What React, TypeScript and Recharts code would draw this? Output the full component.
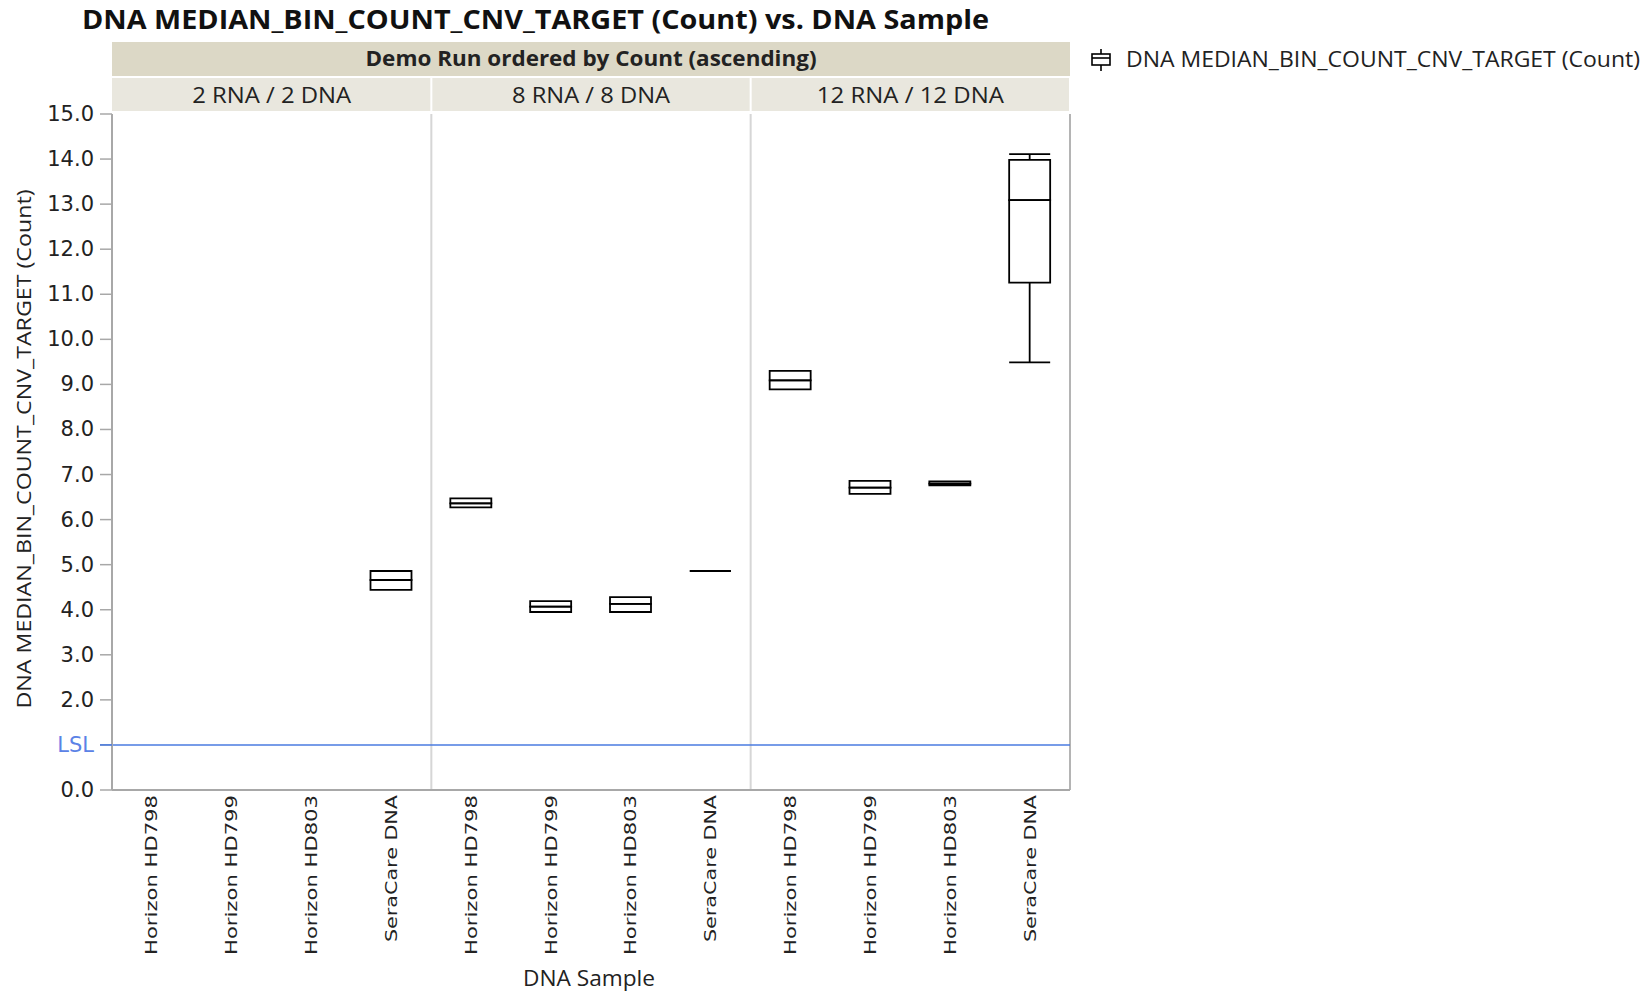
import React from 'react';
import { ComposedChart, Bar, XAxis, YAxis, ReferenceLine } from 'recharts';

const panels = ['2 RNA / 2 DNA', '8 RNA / 8 DNA', '12 RNA / 12 DNA'];
const samples = ['Horizon HD798', 'Horizon HD799', 'Horizon HD803', 'SeraCare DNA'];
const yTicks = [0, 1, 2, 3, 4, 5, 6, 7, 8, 9, 10, 11, 12, 13, 14, 15];
const lslValue = 1;

// one entry per cell: panel order, then sample order (null = no data)
const whiskerLow = [null, null, null, 4.44, 6.27, 3.95, 3.95, 4.86, 8.89, 6.57, 6.76, 9.49];
const quartile1 = [null, null, null, 4.44, 6.27, 3.95, 3.95, 4.86, 8.89, 6.57, 6.76, 11.26];
const medians = [null, null, null, 4.66, 6.36, 4.07, 4.13, 4.86, 9.09, 6.71, 6.8, 13.09];
const quartile3 = [null, null, null, 4.86, 6.47, 4.19, 4.28, 4.86, 9.3, 6.86, 6.85, 13.98];
const whiskerHigh = [null, null, null, 4.86, 6.47, 4.19, 4.28, 4.86, 9.3, 6.86, 6.85, 14.11];

const rows = whiskerLow.map((lo, i) => {
  const has = lo != null;
  return {
    key: `c${i}`,
    label: samples[i % samples.length],
    empty: !has,
    base: has ? lo : 0,
    lowWhisker: has ? (quartile1[i] as number) - (lo as number) : 0,
    boxLow: has ? (medians[i] as number) - (quartile1[i] as number) : 0,
    boxHigh: has ? (quartile3[i] as number) - (medians[i] as number) : 0,
    highWhisker: has ? (whiskerHigh[i] as number) - (quartile3[i] as number) : 0,
  };
});

const W = 1645;
const H = 996;
const plotLeft = 112;
const plotRight = 1070;
const plotTop = 114;
const plotBottom = 790;
const panelW = (plotRight - plotLeft) / panels.length;

const isEmpty = (p: any) => p?.payload?.empty ?? p?.empty;

const Nothing = () => <g />;

const BoxPart = (p: any) => {
  if (isEmpty(p)) return <g />;
  const top = Math.min(p.y, p.y + p.height);
  const h = Math.abs(p.height);
  return (
    <path
      d={`M${p.x},${top}H${p.x + p.width}V${top + h}H${p.x}Z`}
      fill="none"
      stroke="#000"
      strokeWidth={1.8}
    />
  );
};

const makeWhisker = (capAtTop: boolean) => (p: any) => {
  if (isEmpty(p)) return <g />;
  const top = Math.min(p.y, p.y + p.height);
  const h = Math.abs(p.height);
  if (h < 0.5) return <g />;
  const cx = p.x + p.width / 2;
  const capY = capAtTop ? top : top + h;
  return (
    <g stroke="#000" strokeWidth={1.8}>
      <line x1={cx} x2={cx} y1={top} y2={top + h} />
      <line x1={p.x} x2={p.x + p.width} y1={capY} y2={capY} />
    </g>
  );
};

const YTick = (p: any) => {
  const v = p.payload.value;
  const lsl = v === lslValue;
  return (
    <g>
      {lsl && <line x1={p.x + 6} x2={p.x + 18} y1={p.y} y2={p.y} stroke="#4a7be0" strokeWidth={1.6} />}
      <text
        x={p.x}
        y={p.y}
        textAnchor="end"
        dominantBaseline="central"
        fontFamily="DejaVu Sans"
        fontSize={21}
        fill={lsl ? '#5b82e6' : '#222'}
      >
        {lsl ? 'LSL' : v.toFixed(1)}
      </text>
    </g>
  );
};

const XTick = (p: any) => {
  const label = rows[p.index]?.label ?? '';
  const len = label.startsWith('Sera') ? 147 : 160;
  return (
    <text
      x={p.x}
      y={p.y}
      transform={`rotate(-90 ${p.x} ${p.y})`}
      textAnchor="end"
      dominantBaseline="central"
      fontFamily="DejaVu Sans"
      fontSize={16}
      fill="#222"
      textLength={len}
      lengthAdjust="spacingAndGlyphs"
    >
      {label}
    </text>
  );
};

const panelTextLen = [159, 158, 187];

const Overlay = () => (
  <svg width={W} height={H} style={{ position: 'absolute', left: 0, top: 0, pointerEvents: 'none' }}>
    <text x={82} y={29} fontFamily="Open Sans" fontWeight={700} fontSize={27} fill="#111"
      textLength={907} lengthAdjust="spacingAndGlyphs">
      DNA MEDIAN_BIN_COUNT_CNV_TARGET (Count) vs. DNA Sample
    </text>
    <rect x={plotLeft} y={42} width={plotRight - plotLeft} height={34} fill="#dcd8c6" />
    <text x={(plotLeft + plotRight) / 2} y={66} textAnchor="middle" fontFamily="Open Sans" fontWeight={700}
      fontSize={21} fill="#222" textLength={451} lengthAdjust="spacingAndGlyphs">
      Demo Run ordered by Count (ascending)
    </text>
    {panels.map((name, i) => (
      <g key={name}>
        <rect x={plotLeft + i * panelW + (i ? 1 : 0)} y={78} width={panelW - (i ? 2 : 1)} height={33} fill="#e9e7de" />
        <text x={plotLeft + (i + 0.5) * panelW} y={102.5} textAnchor="middle" fontFamily="Open Sans" fontSize={21}
          fill="#222" textLength={panelTextLen[i]} lengthAdjust="spacingAndGlyphs">
          {name}
        </text>
      </g>
    ))}
    <g stroke="#000" strokeWidth={1.6} fill="#fff">
      <line x1={1101} x2={1101} y1={49} y2={71} />
      <rect x={1092} y={54} width={18} height={11} />
      <line x1={1092} x2={1110} y1={58} y2={58} />
    </g>
    <text x={1126} y={67} fontFamily="Open Sans" fontSize={21} fill="#222" textLength={514}
      lengthAdjust="spacingAndGlyphs">
      DNA MEDIAN_BIN_COUNT_CNV_TARGET (Count)
    </text>
    <text x={23} y={449} transform="rotate(-90 23 449)" textAnchor="middle" dominantBaseline="central"
      fontFamily="Open Sans" fontSize={20} fill="#222" textLength={519} lengthAdjust="spacingAndGlyphs">
      DNA MEDIAN_BIN_COUNT_CNV_TARGET (Count)
    </text>
    <text x={589} y={986} textAnchor="middle" fontFamily="Open Sans" fontSize={21} fill="#222"
      textLength={132} lengthAdjust="spacingAndGlyphs">
      DNA Sample
    </text>
  </svg>
);

export default function App() {
  return (
    <div style={{ position: 'absolute', left: 0, top: 0, width: W, height: H, background: '#fff' }}>
      <ComposedChart
        width={W}
        height={H}
        data={rows}
        margin={{ top: plotTop, right: W - plotRight, bottom: 0, left: 0 }}
      >
        <XAxis
          xAxisId="cat"
          dataKey="key"
          type="category"
          interval={0}
          height={H - plotBottom}
          tickLine={false}
          tickSize={0}
          tickMargin={5}
          axisLine={{ stroke: '#a8a8a8', strokeWidth: 2 }}
          tick={<XTick />}
        />
        <YAxis
          type="number"
          domain={[0, 15]}
          ticks={yTicks}
          interval={0}
          width={plotLeft}
          tickSize={12}
          tickMargin={6}
          tickLine={{ stroke: '#a8a8a8', strokeWidth: 1.5 }}
          axisLine={{ stroke: '#a8a8a8', strokeWidth: 2 }}
          tick={<YTick />}
        />
        <ReferenceLine xAxisId="cat" x="c4" position="start" stroke="#d6d6d6" strokeWidth={2} />
        <ReferenceLine xAxisId="cat" x="c8" position="start" stroke="#d6d6d6" strokeWidth={2} />
        <ReferenceLine xAxisId="cat" x="c11" position="end" stroke="#b4b4b4" strokeWidth={2} />
        <ReferenceLine xAxisId="cat" y={lslValue} stroke="#4a7be0" strokeWidth={1.6} />
        <Bar xAxisId="cat" dataKey="base" stackId="box" barSize={41} shape={<Nothing />} isAnimationActive={false} />
        <Bar xAxisId="cat" dataKey="lowWhisker" stackId="box" barSize={41} shape={makeWhisker(false)} isAnimationActive={false} />
        <Bar xAxisId="cat" dataKey="boxLow" stackId="box" barSize={41} shape={BoxPart} isAnimationActive={false} />
        <Bar xAxisId="cat" dataKey="boxHigh" stackId="box" barSize={41} shape={BoxPart} isAnimationActive={false} />
        <Bar xAxisId="cat" dataKey="highWhisker" stackId="box" barSize={41} shape={makeWhisker(true)} isAnimationActive={false} />
      </ComposedChart>
      <Overlay />
    </div>
  );
}
